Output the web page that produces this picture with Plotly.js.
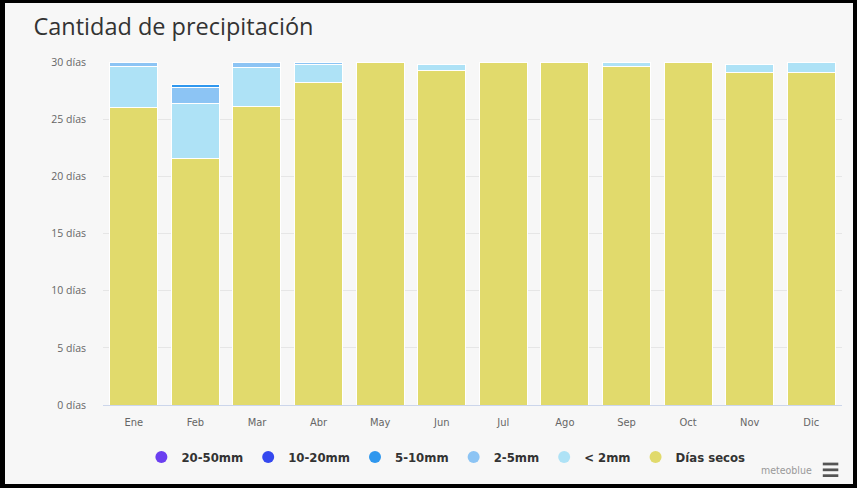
<!DOCTYPE html>
<html>
<head>
<meta charset="utf-8">
<script src="https://cdn.plot.ly/plotly-3.0.1.min.js"></script>
<style>
html,body{margin:0;padding:0;background:#f7f7f7;}
#wrap{position:relative;width:857px;height:488px;overflow:hidden;}
#chart{position:absolute;left:0;top:0;width:857px;height:488px;}
#frame{position:absolute;left:0;top:0;width:857px;height:488px;box-sizing:border-box;
 border-top:3px solid #000;border-left:5px solid #000;border-right:4px solid #000;border-bottom:4px solid #000;pointer-events:none;}
</style>
</head>
<body>
<div id="wrap"><div id="chart"></div><div id="frame"></div></div>
<script>
const months = ["Ene","Feb","Mar","Abr","May","Jun","Jul","Ago","Sep","Oct","Nov","Dic"];
const dryDays   = [26.0, 21.6, 26.1, 28.2, 30, 29.3, 30, 30, 29.6, 30, 29.05, 29.05];
const lt2mm     = [3.6, 4.8, 3.4, 1.6, 0, 0.5, 0, 0, 0.4, 0, 0.7, 0.95];
const mm2to5    = [0.4, 1.4, 0.5, 0.15, 0, 0, 0, 0, 0, 0, 0, 0];
const mm5to10   = [0, 0.2, 0, 0.1, 0, 0, 0, 0, 0, 0, 0, 0];
const mm10to20  = [0, 0, 0, 0, 0, 0, 0, 0, 0, 0, 0, 0];
const mm20to50  = [0, 0, 0, 0, 0, 0, 0, 0, 0, 0, 0, 0];
const seriesNames = ["Días secos","< 2mm","2-5mm","5-10mm","10-20mm","20-50mm"];
const seriesValues = [dryDays, lt2mm, mm2to5, mm5to10, mm10to20, mm20to50];
const seriesColors = ["#e1da6c","#aee2f6","#8cc4f4","#2f97ee","#3548ef","#6b3ff0"];
const yTicks = [0,5,10,15,20,25,30];
const yTickLabels = yTicks.map(v => v + " días");

const data = [];
seriesNames.forEach((n,i)=>{
  data.push({type:"bar", x:months, y:seriesValues[i], name:n, showlegend:false,
    marker:{color:seriesColors[i], line:{color:"#ffffff", width:1}}, hoverinfo:"x+y+name"});
});
seriesNames.forEach((n,i)=>{
  data.push({type:"scatter", mode:"markers", x:[null], y:[null], name:n, showlegend:true,
    marker:{color:seriesColors[i], size:12, symbol:"circle"}});
});

const cond = "DejaVu Sans Condensed, Liberation Sans Narrow, Open Sans, sans-serif";
const layout = {
  width:857, height:488,
  paper_bgcolor:"#f7f7f7", plot_bgcolor:"#f7f7f7",
  margin:{l:103, r:15, t:62, b:83},
  barmode:"stack", bargap:0.22,
  font:{family:"Open Sans, sans-serif", color:"#666"},
  title:{text:"Cantidad de precipitación", x:0.039, xanchor:"left", y:0.945, yanchor:"middle",
    font:{family:"Open Sans, sans-serif", size:23.5, color:"#333"}},
  xaxis:{type:"category", showgrid:false, ticks:"", showline:true, linecolor:"#ccd6eb", linewidth:1,
    ticklabelstandoff:7,
    tickfont:{size:11, color:"#666", family:cond}, fixedrange:true},
  yaxis:{range:[0,30], tickvals:yTicks, ticktext:yTickLabels, showgrid:true, gridcolor:"#e6e6e6",
    zeroline:false, ticks:"", ticklen:0, ticklabelstandoff:16,
    tickfont:{size:10.5, color:"#666", family:"Open Sans, sans-serif"}, fixedrange:true},
  legend:{orientation:"h", x:0.464, xanchor:"center", y:-0.152, yanchor:"middle", traceorder:"reversed",
    font:{size:13, color:"#333", family:cond, weight:"bold"},
    bgcolor:"rgba(0,0,0,0)", itemwidth:30},
  annotations:[{xref:"paper", yref:"paper", x:0.962, xanchor:"right", y:-0.19, yanchor:"middle",
    text:"meteoblue", showarrow:false, font:{size:10.5, color:"#999", family:cond}}],
  shapes:[
    {type:"rect", xref:"paper", yref:"paper", x0:0.974, x1:0.995, y0:-0.168, y1:-0.176, fillcolor:"#555", line:{width:0}},
    {type:"rect", xref:"paper", yref:"paper", x0:0.974, x1:0.995, y0:-0.185, y1:-0.193, fillcolor:"#555", line:{width:0}},
    {type:"rect", xref:"paper", yref:"paper", x0:0.974, x1:0.995, y0:-0.202, y1:-0.210, fillcolor:"#555", line:{width:0}}
  ]
};
Plotly.newPlot("chart", data, layout, {displayModeBar:false, staticPlot:true});
</script>
</body>
</html>
